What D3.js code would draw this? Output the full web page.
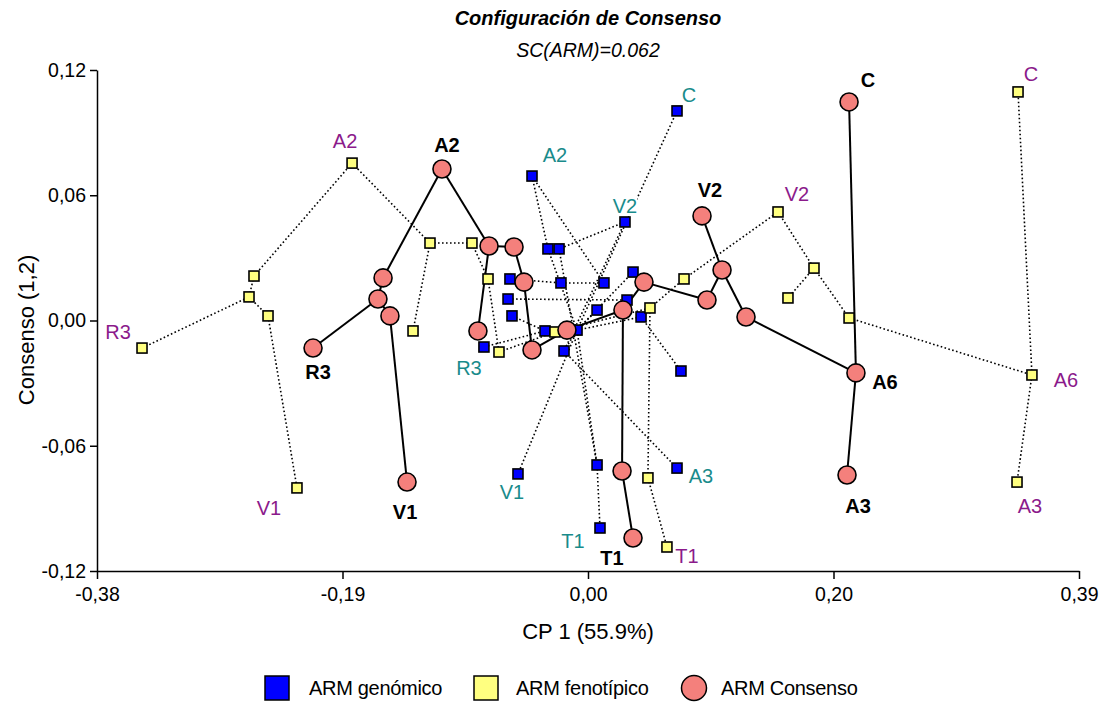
<!DOCTYPE html>
<html><head><meta charset="utf-8">
<script src="https://cdn.jsdelivr.net/npm/d3@7"></script>
<style>
body{margin:0;background:#fff}
svg{display:block}
text{font-family:"Liberation Sans",Arial,sans-serif}
</style>
</head><body>
<svg id="chart" width="1105" height="705"></svg>
<script>
// ---------------- DATA ----------------
const ids    = ["C","A2","V2","R3","V1","A3","A6","T1","u1","u2","u3","u4","u5","u6","u7","u8","u9","u10","u11","u12","u13","u14","u15"];
const labels = ["C","A2","V2","R3","V1","A3","A6","T1","","","","","","","","","","","","","","",""];

// consensus configuration
const consX = [0.2097,-0.1095,0.0944,-0.2106,-0.1369,0.2081,0.2151,0.0403,-0.1557,-0.1597,-0.1503,-0.0726,-0.0813,-0.0530,-0.0452,-0.0389,-0.0115,0.0324,0.0317,0.0489,0.0983,0.1101,0.1289];
const consY = [0.1047,0.0726,0.0501,-0.0132,-0.0774,-0.0740,-0.0251,-0.1042,0.0204,0.0103,0.0022,0.0357,-0.0050,0.0352,0.0184,-0.0141,-0.0046,0.0050,-0.0721,0.0184,0.0098,0.0242,0.0017];

// phenotypic configuration
const fenoX = [0.3422,-0.1800,0.1540,-0.3447,-0.2232,0.3414,0.3531,0.0669,-0.2569,-0.2608,-0.2459,-0.1189,-0.1322,-0.0860,-0.0734,-0.0648,-0.0209,0.0536,0.0520,0.0803,0.1618,0.1822,0.2097];
const fenoY = [0.1095,0.0754,0.0520,-0.0132,-0.0802,-0.0774,-0.0261,-0.1085,0.0213,0.0113,0.0022,0.0371,-0.0050,0.0371,0.0199,-0.0151,-0.0055,0.0060,-0.0754,0.0199,0.0108,0.0251,0.0012];

// genomic configuration
const genoX = [0.0748,-0.0389,0.0340,-0.0766,-0.0499,0.0748,0.0779,0.0144,-0.0562,-0.0577,-0.0546,-0.0264,-0.0287,-0.0177,-0.0162,-0.0138,-0.0036,0.0121,0.0121,0.0175,0.0356,0.0403,0.0466];
const genoY = [0.1004,0.0692,0.0472,-0.0127,-0.0735,-0.0707,-0.0242,-0.0994,0.0199,0.0103,0.0022,0.0343,-0.0050,0.0343,0.0180,-0.0146,-0.0046,0.0050,-0.0692,0.0180,0.0098,0.0232,0.0017];

// tree links of each configuration
const consEdges = [["C","A6"],["A6","A3"],["A6","u15"],["u15","u14"],["u14","V2"],["u14","u13"],["u13","u12"],["u12","u10"],["u10","u9"],["u10","u11"],["u11","T1"],["u9","u8"],["u8","u7"],["u7","u6"],["u6","u4"],["u4","u5"],["u4","A2"],["A2","u1"],["u1","u2"],["u2","R3"],["u2","u3"],["u3","V1"]];
const fenoEdges = [["R3","u2"],["u2","u1"],["u1","A2"],["u2","u3"],["u3","V1"],["A2","u4"],["u4","u5"],["u4","u6"],["u6","u7"],["u7","u8"],["u8","u9"],["u9","u10"],["u10","u11"],["u11","T1"],["u10","u12"],["u12","V2"],["V2","u14"],["u14","u13"],["u14","u15"],["u15","A6"],["A6","C"],["A6","A3"]];
const genoEdges = [["C","u9"],["V2","u8"],["V2","u6"],["A2","u4"],["A2","u12"],["u6","u11"],["u1","u7"],["u7","u12"],["u2","u13"],["u3","u5"],["u5","u9"],["R3","u5"],["u14","u9"],["u15","u9"],["u15","A6"],["u9","V1"],["u9","u11"],["u11","T1"],["u8","A3"],["u8","u9"],["u10","u9"],["u4","u9"]];

const xTickLabels = ["-0,38","-0,19","0,00","0,20","0,39"];
const yTickLabels = ["-0,12","-0,06","0,00","0,06","0,12"];
const legendLabels = ["ARM genómico","ARM fenotípico","ARM Consenso"];
const titleText = "Configuración de Consenso";
const subtitleText = "SC(ARM)=0.062";
const xTitle = "CP 1 (55.9%)";
const yTitle = "Consenso (1,2)";

// ---------------- LAYOUT / STYLE ----------------
const W = 1105, H = 705;
const plot = {left:97, right:1079, top:70, bottom:571};
const x = d3.scaleLinear().domain([-0.38, 0.39]).range([plot.left, plot.right]);
const y = d3.scaleLinear().domain([-0.12, 0.12]).range([plot.bottom, plot.top]);

const colBlue = "#0000ff", colYellow = "#ffff80", colRed = "#f4807c";
const colTeal = "#198b8b", colPurple = "#8b1a8b";

// label placement (pixel offsets from point)
const consLabelOff = {C:[19,-22],A2:[5,-24],V2:[8,-26],R3:[5,24],V1:[-2,30],A3:[11,31],A6:[29,9],T1:[-21,20]};
const fenoLabelOff = {C:[13,-18],A2:[-7,-22],V2:[19,-18],R3:[-24,-16],V1:[-28,20],A6:[34,5],A3:[13,24],T1:[20,9]};
const genoLabelOff = {C:[12,-16],A2:[23,-21],V2:[0,-16],R3:[-15,21],V1:[-6,18],A3:[24,8],T1:[-27,13]};

const svg = d3.select("#chart");
svg.append("rect").attr("width",W).attr("height",H).attr("fill","#fff");

function makeSeries(xs, ys){
  const m = new Map();
  ids.forEach((id,i)=>m.set(id,{id, label:labels[i], x:xs[i], y:ys[i]}));
  return m;
}
const cons = makeSeries(consX, consY);
const feno = makeSeries(fenoX, fenoY);
const geno = makeSeries(genoX, genoY);

// title
svg.append("text").attr("x",588).attr("y",25).attr("text-anchor","middle")
  .attr("font-size",20).attr("font-weight","bold").attr("font-style","italic").text(titleText);
svg.append("text").attr("x",588).attr("y",57).attr("text-anchor","middle")
  .attr("font-size",19.5).attr("font-style","italic").text(subtitleText);

// axes
const xTickVals = xTickLabels.map((d,i)=> -0.38 + i*0.77/(xTickLabels.length-1));
const yTickVals = yTickLabels.map((d,i)=> -0.12 + i*0.24/(yTickLabels.length-1));

const xAxis = d3.axisBottom(x).tickValues(xTickVals).tickFormat((d,i)=>xTickLabels[i]).tickSizeInner(8).tickSizeOuter(0).tickPadding(8);
const yAxis = d3.axisLeft(y).tickValues(yTickVals).tickFormat((d,i)=>yTickLabels[i]).tickSizeInner(7).tickSizeOuter(0).tickPadding(4);

const gx = svg.append("g").attr("transform",`translate(0,${plot.bottom})`).call(xAxis);
const gy = svg.append("g").attr("transform",`translate(${plot.left},0)`).call(yAxis);
[gx,gy].forEach(g=>{
  g.selectAll("path.domain").attr("stroke","#000").attr("stroke-width",1.5);
  g.selectAll(".tick line").attr("stroke","#000").attr("stroke-width",1.5);
  g.selectAll(".tick text").attr("fill","#000").attr("font-size",19.5)
    .attr("font-family",'"Liberation Sans",Arial,sans-serif');
});

svg.append("text").attr("x",588).attr("y",639).attr("text-anchor","middle").attr("font-size",22).text(xTitle);
svg.append("text").attr("transform","translate(34,330) rotate(-90)").attr("text-anchor","middle").attr("font-size",22).text(yTitle);

// edges
function drawEdges(series, edges, dotted){
  svg.append("g").selectAll("line").data(edges).join("line")
    .attr("x1",e=>x(series.get(e[0]).x)).attr("y1",e=>y(series.get(e[0]).y))
    .attr("x2",e=>x(series.get(e[1]).x)).attr("y2",e=>y(series.get(e[1]).y))
    .attr("stroke","#000")
    .attr("stroke-width",dotted?1.6:2)
    .attr("stroke-dasharray",dotted?"1.6,2.4":null);
}
drawEdges(geno, genoEdges, true);
drawEdges(feno, fenoEdges, true);
drawEdges(cons, consEdges, false);

// points
const sq = 10;
function drawSquares(series, fill){
  svg.append("g").selectAll("rect").data([...series.values()]).join("rect")
    .attr("x",d=>x(d.x)-sq/2).attr("y",d=>y(d.y)-sq/2)
    .attr("width",sq).attr("height",sq)
    .attr("fill",fill).attr("stroke","#000").attr("stroke-width",1.6);
}
drawSquares(geno, colBlue);
drawSquares(feno, colYellow);
svg.append("g").selectAll("circle").data([...cons.values()]).join("circle")
  .attr("cx",d=>x(d.x)).attr("cy",d=>y(d.y)).attr("r",9)
  .attr("fill",colRed).attr("stroke","#000").attr("stroke-width",1.6);

// labels with white background
function drawLabels(series, offs, color, weight){
  const g = svg.append("g");
  Object.keys(offs).forEach(id=>{
    const d = series.get(id);
    const px = x(d.x)+offs[id][0], py = y(d.y)+offs[id][1];
    const bg = g.append("rect").attr("fill","#fff");
    const t = g.append("text").attr("x",px).attr("y",py).attr("text-anchor","middle")
      .attr("dominant-baseline","central").attr("font-size",20).attr("font-weight",weight)
      .attr("fill",color).text(d.label);
    const b = t.node().getBBox();
    bg.attr("x",b.x).attr("y",b.y+3).attr("width",b.width).attr("height",b.height-5);
  });
}
drawLabels(geno, genoLabelOff, colTeal, "normal");
drawLabels(feno, fenoLabelOff, colPurple, "normal");
drawLabels(cons, consLabelOff, "#000", "bold");

// legend
const lg = svg.append("g");
const legendX = [265, 474, 680];
const legendTextX = [309, 516, 721];
const ly = 688;
lg.append("rect").attr("x",legendX[0]).attr("y",ly-12).attr("width",24).attr("height",24).attr("fill",colBlue).attr("stroke","#000").attr("stroke-width",1.5);
lg.append("rect").attr("x",legendX[1]).attr("y",ly-12).attr("width",24).attr("height",24).attr("fill",colYellow).attr("stroke","#000").attr("stroke-width",1.5);
lg.append("circle").attr("cx",legendX[2]+14).attr("cy",ly).attr("r",12.5).attr("fill",colRed).attr("stroke","#000").attr("stroke-width",1.5);
legendLabels.forEach((t,i)=>{
  lg.append("text").attr("x",legendTextX[i]).attr("y",ly).attr("dominant-baseline","central")
    .attr("font-size",20).attr("letter-spacing",-0.3).text(t);
});
</script>
</body></html>
